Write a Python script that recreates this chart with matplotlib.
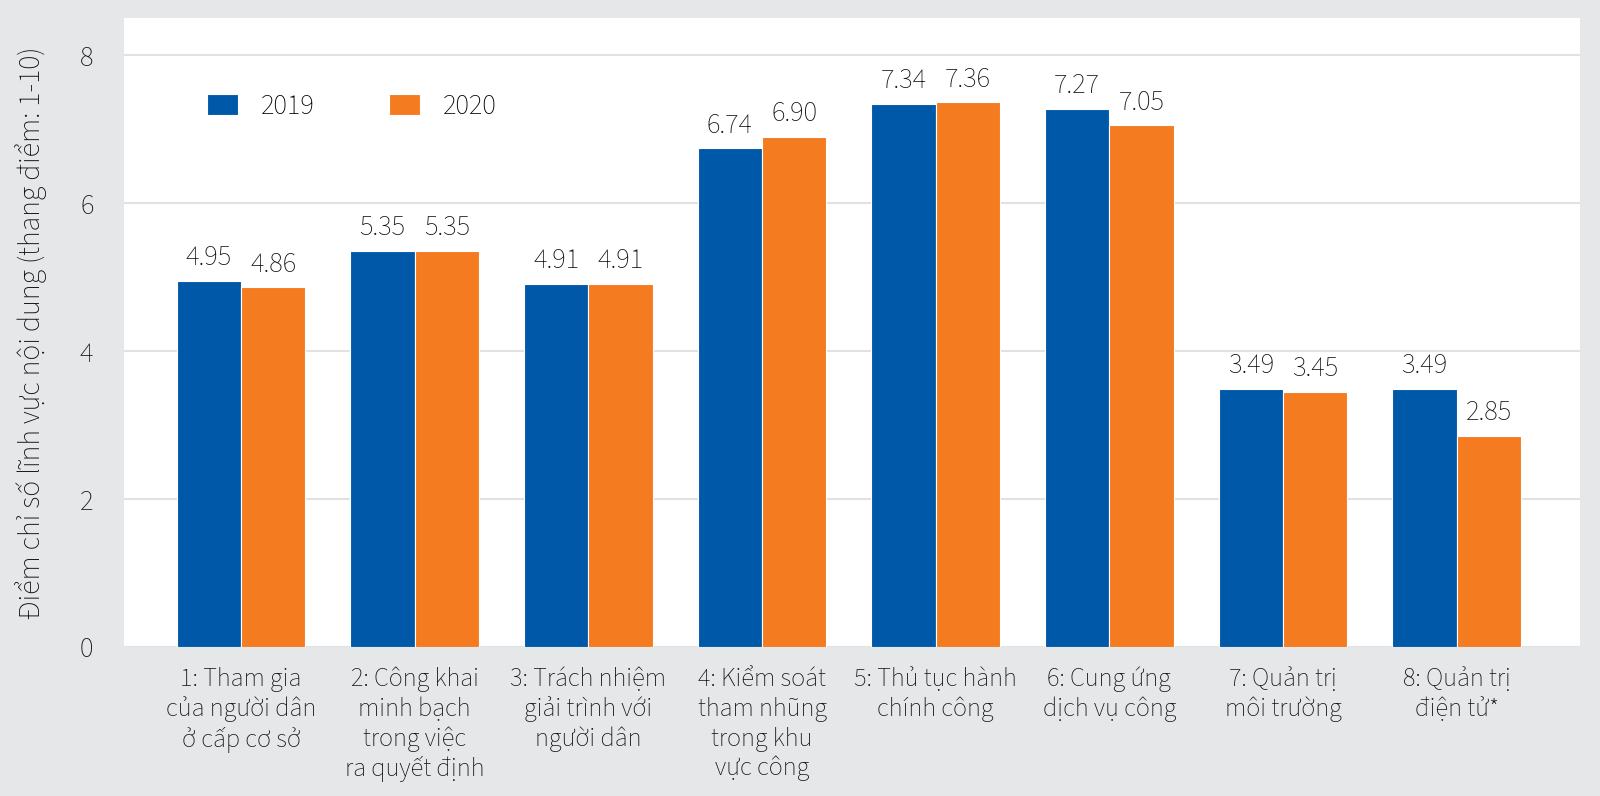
import matplotlib.pyplot as plt
import numpy as np

plt.rcParams['font.family'] = ['Source Sans 3', 'Open Sans', 'DejaVu Sans']

categories = ['1: Tham gia\ncủa người dân\nở cấp cơ sở',
              '2: Công khai\nminh bạch\ntrong việc\nra quyết định',
              '3: Trách nhiệm\ngiải trình với\nngười dân',
              '4: Kiểm soát\ntham nhũng\ntrong khu\nvực công',
              '5: Thủ tục hành\nchính công',
              '6: Cung ứng\ndịch vụ công',
              '7: Quản trị\nmôi trường',
              '8: Quản trị\nđiện tử*']
y2019 = [4.95, 5.35, 4.91, 6.74, 7.34, 7.27, 3.49, 3.49]
y2020 = [4.86, 5.35, 4.91, 6.90, 7.36, 7.05, 3.45, 2.85]

bg = '#e6e7e8'
blue = '#0058a9'
orange = '#f47b20'

fig = plt.figure(figsize=(16, 7.96), dpi=100, facecolor=bg)
ax = fig.add_axes([0.0775, 0.1872, 0.91, 0.790])
ax.set_facecolor('white')

x = np.arange(len(categories))
w = 0.37
b1 = ax.bar(x - w/2, y2019, w, color=blue, edgecolor='white', linewidth=0.8, label='2019', zorder=3)
b2 = ax.bar(x + w/2, y2020, w, color=orange, edgecolor='white', linewidth=0.8, label='2020', zorder=3)
ax.bar_label(b1, labels=['%.2f' % v for v in y2019], padding=7, fontsize=20.5, color='#111111')
ax.bar_label(b2, labels=['%.2f' % v for v in y2020], padding=7, fontsize=20.5, color='#111111')

ax.set_xlim(-0.674, 7.71)
ax.set_ylim(0, 8.5)
ax.set_yticks([0, 2, 4, 6, 8])
ax.yaxis.grid(True, color='#e2e2e2', linewidth=1.5, zorder=0)
ax.set_axisbelow(True)
for s in ax.spines.values():
    s.set_visible(False)
ax.tick_params(axis='both', length=0, labelcolor='#111111')
ax.tick_params(axis='y', labelsize=20.5, pad=22)
ax.set_xticks(x)
ax.set_xticklabels(categories, fontsize=19, linespacing=1.22)
ax.tick_params(axis='x', pad=14)
ax.set_ylabel('Điểm chỉ số lĩnh vực nội dung (thang điểm: 1-10)', fontsize=21.5, color='#111111')
ax.yaxis.set_label_coords(-0.053, 0.5)

ax.legend(loc='center left', bbox_to_anchor=(0.057, 0.859), ncol=2, frameon=False,
          fontsize=20.5, handlelength=1.1, handleheight=0.75, handletextpad=0.8,
          columnspacing=2.6, borderpad=0, borderaxespad=0)

fig.savefig('out.png', dpi=100, facecolor=bg)
